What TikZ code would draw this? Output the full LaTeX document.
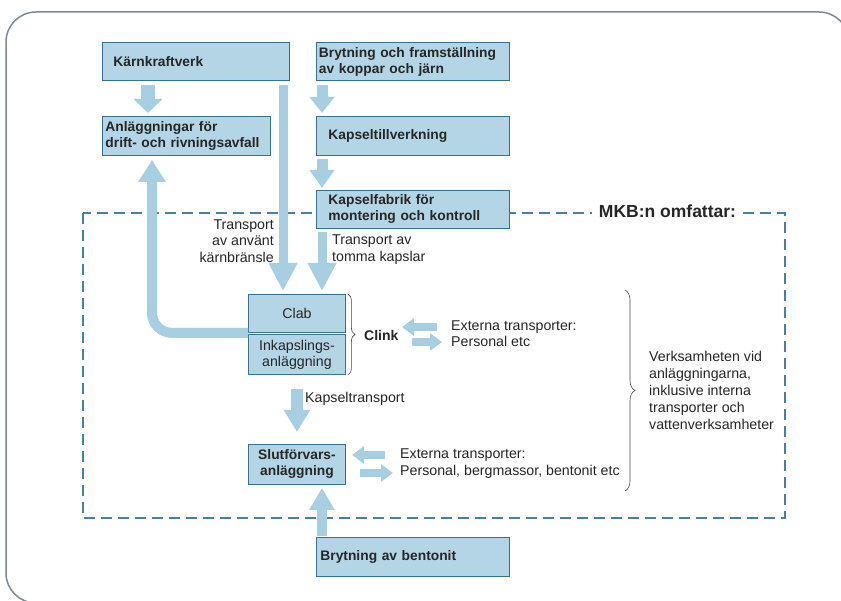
\documentclass[tikz,border=0pt]{standalone}
\usepackage{fontspec}
\setmainfont{Liberation Sans}
\usetikzlibrary{arrows.meta,decorations.pathreplacing}
\definecolor{boxfill}{RGB}{180,213,230}
\definecolor{boxline}{RGB}{55,115,145}
\definecolor{arrowc}{RGB}{168,206,226}
\definecolor{dashc}{RGB}{70,130,160}
\definecolor{framec}{RGB}{125,138,150}
\definecolor{bracec}{RGB}{70,70,70}
\newcommand{\bfnt}{\fontsize{13.8}{16}\selectfont\bfseries}
\newcommand{\rgfnt}{\fontsize{14.2}{16.5}\selectfont}
\begin{document}
\begin{tikzpicture}[x=1pt,y=-1pt,
  box/.style={draw=boxline, fill=boxfill, line width=0.9pt, anchor=north west,
    inner ysep=0pt, minimum height=38pt, align=left, font=\bfnt, text=black!85},
  cbox/.style={box, align=center, inner xsep=0pt, text width=97pt, minimum width=97pt},
  lbl/.style={font=\rgfnt, inner sep=0pt, text=black!85},
  barrow/.style n args={3}{draw=arrowc, line width=#1, -{Triangle[length=#2, width=#3]}},
  bracest/.style={draw=bracec, line width=0.6pt, decorate, decoration={brace, amplitude=#1}}
]
\useasboundingbox (0,0) rectangle (841,601);
\begin{scope}
\clip (0,0) rectangle (841,601);
\fill[white] (0,0) rectangle (841,601);
% outer frame (right and bottom edges lie outside the picture)
\draw[framec, line width=1.5pt, rounded corners=30pt] (849,50) -- (849,12) -- (6,12) -- (6,603) -- (60,603);
\end{scope}
% dashed scope frame
\draw[dashc, line width=1.2pt, dash pattern=on 11pt off 6pt] (83,213) rectangle (785,518);
\node[font=\fontsize{17.5}{20}\selectfont\bfseries, fill=white, inner xsep=7pt, inner ysep=2pt, text=black!85] (mkb) at (667.5,211) {MKB:n omfattar:};

% boxes
\node[box, inner xsep=11pt, text width=165pt] (kkv) at (102,42) {Kärnkraftverk};
\node[box, inner xsep=2.5pt, text width=188pt] (bryt) at (316,42) {Brytning och framställning\\av koppar och järn};
\node[box, inner xsep=3pt, text width=162pt, minimum height=39pt] (anl) at (102,116) {Anläggningar för\\drift- och rivningsavfall};
\node[box, inner xsep=12pt, text width=169pt, minimum height=39pt] (ktill) at (316,116) {Kapseltillverkning};
\node[box, inner xsep=12pt, text width=169pt] (kfab) at (316,190) {Kapselfabrik för\\montering och kontroll};
\node[cbox, font=\rgfnt, minimum height=38.5pt] (clab) at (248,294) {Clab};
\node[cbox, font=\rgfnt, minimum height=39.5pt] (inkap) at (248,334.5) {Inkapslings-\\anläggning};
\node[cbox, minimum height=40pt] (slut) at (248,444) {Slutförvars-\\anläggning};
\node[box, inner xsep=4pt, text width=185pt, minimum height=39pt] (bent) at (316,537) {Brytning av bentonit};

% arrows
\draw[barrow={14pt}{14pt}{28pt}] ([xshift=46pt,yshift=-4pt]kkv.south west) -- ([xshift=46pt,yshift=3pt]anl.north west);
\draw[barrow={9pt}{28pt}{27pt}] ([xshift=181pt,yshift=-4pt]kkv.south west) -- ([xshift=35pt,yshift=3pt]clab.north west);
\draw[barrow={11pt}{16pt}{24pt}] ([xshift=6pt,yshift=-4pt]bryt.south west) -- ([xshift=6pt,yshift=3pt]ktill.north west);
\draw[barrow={11pt}{18pt}{24pt}] ([xshift=6pt,yshift=-3pt]ktill.south west) -- ([xshift=6pt,yshift=2pt]kfab.north west);
\draw[barrow={9pt}{28pt}{27pt}] ([xshift=6pt,yshift=-3pt]kfab.south west) -- ([xshift=74pt,yshift=3pt]clab.north west);
\draw[barrow={10pt}{22pt}{26pt}, rounded corners=20pt] ([yshift=0.5pt]clab.south west) -| ([xshift=50pt,yshift=-4pt]anl.south west);
\draw[barrow={12pt}{22pt}{25pt}] ([yshift=-14pt]inkap.south) -- ([yshift=12pt]slut.north);
\draw[barrow={10pt}{22pt}{24pt}] ([xshift=6pt,yshift=1pt]bent.north west) -- ([xshift=74pt,yshift=-3pt]slut.south west);

% external transport arrows
\coordinate (c1a) at (437,327); \coordinate (c1b) at (402,327);
\coordinate (c2a) at (412,342); \coordinate (c2b) at (442,342);
\coordinate (s1a) at (385,455); \coordinate (s1b) at (352,455);
\coordinate (s2a) at (360,473); \coordinate (s2b) at (393,473);
\draw[barrow={8pt}{12pt}{17pt}] (c1a) -- (c1b);
\draw[barrow={8pt}{12pt}{17pt}] (c2a) -- (c2b);
\draw[barrow={8pt}{12pt}{17pt}] (s1a) -- (s1b);
\draw[barrow={8pt}{12pt}{17pt}] (s2a) -- (s2b);

% braces
\draw[bracest=7pt] ([xshift=2pt]clab.north east) -- ([xshift=2pt]inkap.south east);
\coordinate (bt) at (625,290); \coordinate (bb) at (625,491);
\draw[bracest=10pt] (bt) -- (bb);

% labels
\node[font=\fontsize{14}{16}\selectfont\bfseries, inner sep=0pt, anchor=west, text=black!85] (clink) at (364,335) {Clink};
\node[lbl, anchor=west, align=left] (ext1) at (451,333.5) {Externa transporter:\\Personal etc};
\node[lbl, anchor=west, align=left] (ext2) at (400,463.5) {Externa transporter:\\Personal, bergmassor, bentonit etc};
\node[lbl, anchor=east, align=right] (tany) at (274,241) {Transport\\av använt\\kärnbränsle};
\node[lbl, anchor=west, align=left] (ttom) at (332,249.5) {Transport av\\tomma kapslar};
\node[lbl, anchor=west] (ktr) at (305,399) {Kapseltransport};
\node[lbl, anchor=west, align=left, font=\fontsize{14.2}{17}\selectfont] (verk) at (649,390) {Verksamheten vid\\anläggningarna,\\inklusive interna\\transporter och\\vattenverksamheter};
\end{tikzpicture}
\end{document}
